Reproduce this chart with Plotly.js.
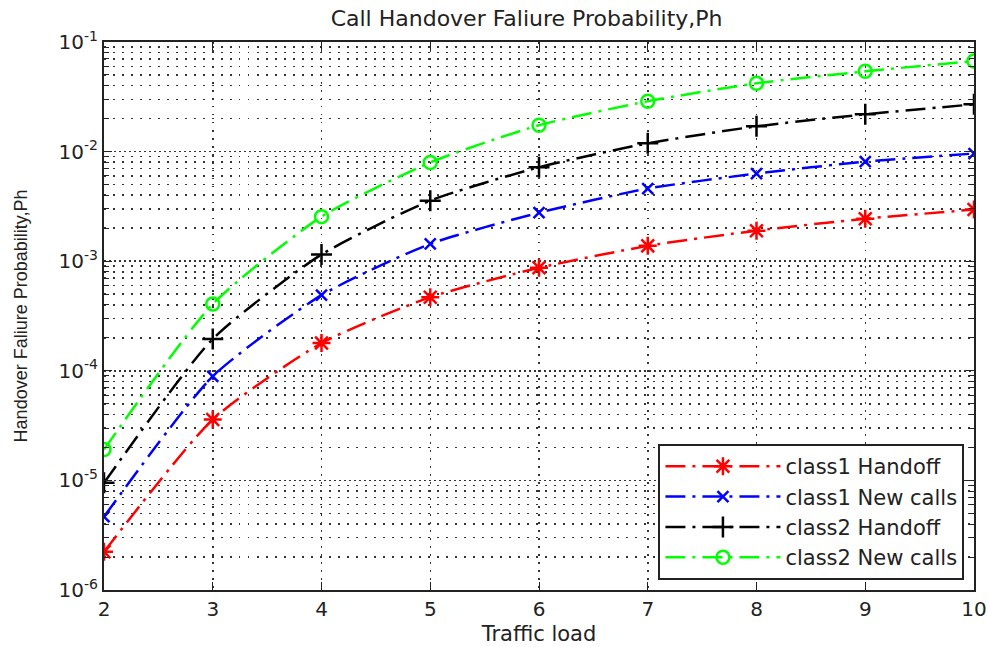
<!DOCTYPE html>
<html>
<head>
<meta charset="utf-8">
<script src="https://cdn.plot.ly/plotly-3.0.1.min.js"></script>
<style>html,body{margin:0;padding:0;background:#fff;}#chart{width:988px;height:647px;}</style>
</head>
<body>
<div id="chart"></div>
<script>
const trafficLoad = [2, 3, 4, 5, 6, 7, 8, 9, 10];
const class1Handoff = [2.23e-6, 3.6e-5, 1.79e-4, 4.7e-4, 8.7e-4, 1.38e-3, 1.9e-3, 2.44e-3, 2.96e-3];
const class1NewCalls = [4.66e-6, 8.9e-5, 4.9e-4, 1.44e-3, 2.77e-3, 4.6e-3, 6.3e-3, 8.1e-3, 9.6e-3];
const class2Handoff = [9.5e-6, 1.95e-4, 1.15e-3, 3.57e-3, 7.2e-3, 1.19e-2, 1.7e-2, 2.19e-2, 2.7e-2];
const class2NewCalls = [1.91e-5, 4.07e-4, 2.55e-3, 7.96e-3, 1.74e-2, 2.88e-2, 4.2e-2, 5.4e-2, 6.7e-2];
const seriesNames = ["class1 Handoff", "class1 New calls", "class2 Handoff", "class2 New calls"];
const yTickVals = [1e-6, 1e-5, 1e-4, 1e-3, 1e-2, 1e-1];
const yTickText = ["10<sup>-6</sup>", "10<sup>-5</sup>", "10<sup>-4</sup>", "10<sup>-3</sup>", "10<sup>-2</sup>", "10<sup>-1</sup>"];

// minor tick positions (2..9 within each decade) for the log axis
const yMinorVals = [];
for (let d = -6; d < -1; d++) for (let k = 2; k <= 9; k++) yMinorVals.push(k * Math.pow(10, d));

const lineDash = '20px,7px,3px,7px';
function mk(y, name, color, symbol, size) {
  return {
    x: trafficLoad, y: y, name: name, type: 'scatter', mode: 'lines+markers',
    line: {color: color, width: 2.5, dash: lineDash, shape: 'spline', smoothing: 0.6},
    marker: {symbol: symbol, size: size, color: color, line: {color: color, width: 2.5}}
  };
}
const data = [
  mk(class1Handoff, seriesNames[0], '#ff0000', 'asterisk-open', 15),
  mk(class1NewCalls, seriesNames[1], '#0000ff', 'x-thin-open', 11),
  mk(class2Handoff, seriesNames[2], '#000000', 'cross-thin-open', 15),
  mk(class2NewCalls, seriesNames[3], '#00ff00', 'circle-open', 13)
];
const fontFam = '"DejaVu Sans", "Liberation Sans", Arial, sans-serif';
const gridCol = '#333';
const layout = {
  width: 988, height: 647,
  margin: {l: 104, r: 14, t: 42, b: 57},
  paper_bgcolor: '#fff', plot_bgcolor: '#fff',
  font: {family: fontFam, color: '#222', size: 18},
  title: {text: 'Call Handover Faliure Probability,Ph', x: 0.533, xanchor: 'center', y: 0.972, yanchor: 'middle', font: {size: 22, color: '#222'}},
  xaxis: {
    range: [2, 10], tickvals: trafficLoad, ticks: 'inside', ticklen: 8, tickcolor: '#222',
    showline: true, linecolor: '#222', linewidth: 2, mirror: 'ticks',
    showgrid: true, gridcolor: gridCol, griddash: '1.5px,6.5px', gridwidth: 1.5, zeroline: false,
    tickfont: {size: 20, color: '#222'}, ticklabeloverflow: 'allow',
    title: {text: 'Traffic load', font: {size: 21, color: '#222'}, standoff: 6}
  },
  yaxis: {
    type: 'log', range: [-6, -1], tickmode: 'array', tickvals: yTickVals, ticktext: yTickText,
    ticks: 'inside', ticklen: 8, tickcolor: '#222',
    showline: true, linecolor: '#222', linewidth: 2, mirror: 'ticks',
    showgrid: true, gridcolor: gridCol, griddash: '2px,3px', gridwidth: 1.5, zeroline: false,
    tickfont: {size: 20, color: '#222'},
    minor: {tickmode: 'array', tickvals: yMinorVals, ticks: 'inside', ticklen: 5, tickcolor: '#222', showgrid: true, gridcolor: gridCol, griddash: '1.5px,7.5px', gridwidth: 1.5},
    title: {text: 'Handover Faliure Probability,Ph', font: {family: '"Liberation Sans", Arial, sans-serif', size: 18, color: '#222'}, standoff: 26}
  },
  legend: {
    x: 0.989, xanchor: 'right', y: 0.018, yanchor: 'bottom',
    bgcolor: '#fff', bordercolor: '#222', borderwidth: 2,
    font: {size: 21, color: '#222'}, itemwidth: 115, tracegroupgap: 0
  },
  showlegend: true
};
Plotly.newPlot('chart', data, layout, {displayModeBar: false, staticPlot: true});
</script>
</body>
</html>
